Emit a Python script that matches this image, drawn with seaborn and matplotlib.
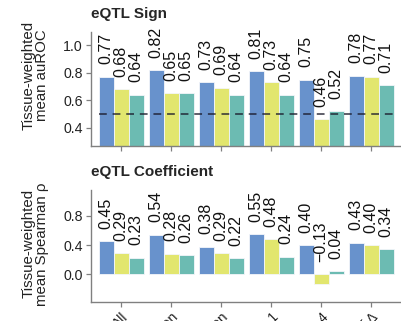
import pandas as pd
import matplotlib
matplotlib.use('Agg')
import matplotlib.pyplot as plt
import seaborn as sns

# Groups along the x axis (labels are cut off by the figure edge)
categories = ['All', 'Promoter region', 'Distal region',
              '# tissues = 1', '# tissues \u2265 4', 'Top 10% of \u0394']
models = ['Model A', 'Model B', 'Model C']
palette = ['#6892cc', '#e2e66e', '#6cbbb2']

# eQTL sign: tissue-weighted mean auROC
sign_a = [0.77, 0.82, 0.73, 0.81, 0.75, 0.78]
sign_b = [0.68, 0.65, 0.69, 0.73, 0.46, 0.77]
sign_c = [0.64, 0.65, 0.64, 0.64, 0.52, 0.71]

# eQTL coefficient: tissue-weighted mean Spearman rho
coef_a = [0.45, 0.54, 0.38, 0.55, 0.40, 0.43]
coef_b = [0.29, 0.28, 0.29, 0.48, -0.13, 0.40]
coef_c = [0.23, 0.26, 0.22, 0.24, 0.04, 0.34]


def long_df(a, b, c):
    rows = []
    for model, vals in zip(models, [a, b, c]):
        for cat, v in zip(categories, vals):
            rows.append({'group': cat, 'model': model, 'value': v})
    return pd.DataFrame(rows)


sns.set_style('ticks')
plt.rcParams['font.family'] = ['Liberation Sans', 'DejaVu Sans']

fig = plt.figure(figsize=(4.01, 3.21), dpi=100)
ax1 = fig.add_axes([0.227, 0.545, 0.771, 0.355])
ax2 = fig.add_axes([0.227, 0.059, 0.771, 0.349])


def draw_panel(ax, df, ylim, yticks, ylabel, title, label_y):
    sns.barplot(data=df, x='group', y='value', hue='model', order=categories,
                hue_order=models, palette=palette, saturation=1, width=0.9,
                errorbar=None, edgecolor='#f4f6fa', linewidth=0.6,
                legend=False, ax=ax)
    for cont in ax.containers:
        for bar in cont:
            h = bar.get_height()
            if bar.get_y() < 0:
                h = bar.get_y()
            txt = f'{h:.2f}'.replace('-', '\u2212')
            ax.annotate(txt, (bar.get_x() + bar.get_width() / 2, max(h, 0)),
                        xytext=(0, 9), textcoords='offset points',
                        rotation=90, ha='center', va='bottom',
                        fontsize=11.5, color='#111111')
    ax.set_xlim(-0.6, 5.58)
    ax.set_ylim(*ylim)
    ax.set_yticks(yticks)
    ax.set_yticklabels([f'{t:.1f}' for t in yticks])
    ax.set_xlabel('')
    ax.set_ylabel(ylabel, fontsize=10.8, color='#222222', linespacing=1.0)
    ax.yaxis.set_label_coords(-0.135, label_y)
    ax.set_title(title, loc='left', fontsize=11, fontweight='bold', pad=10)
    sns.despine(ax=ax)
    for s in ['left', 'bottom']:
        ax.spines[s].set_color('#808080')
        ax.spines[s].set_linewidth(1.0)
    ax.tick_params(axis='both', length=3.5, width=0.9, color='#808080',
                   labelsize=10.2, labelcolor='#222222', pad=2.5)
    plt.setp(ax.get_xticklabels(), rotation=45, ha='right',
             rotation_mode='anchor', fontsize=10)


draw_panel(ax1, long_df(sign_a, sign_b, sign_c), (0.266, 1.097),
           [0.4, 0.6, 0.8, 1.0], 'Tissue-weighted\nmean auROC', 'eQTL Sign', 0.62)
ax1.hlines(0.5, -0.45, 5.45, colors='#1a1a2a', linestyles=(0, (4, 3)),
           linewidth=1.4, alpha=0.7, zorder=5)
ax1.tick_params(axis='x', labelbottom=False)

draw_panel(ax2, long_df(coef_a, coef_b, coef_c), (-0.378, 1.151),
           [0.0, 0.4, 0.8], 'Tissue-weighted\nmean Spearman \u03c1',
           'eQTL Coefficient', 0.52)

fig.savefig('out.png', dpi=100)
